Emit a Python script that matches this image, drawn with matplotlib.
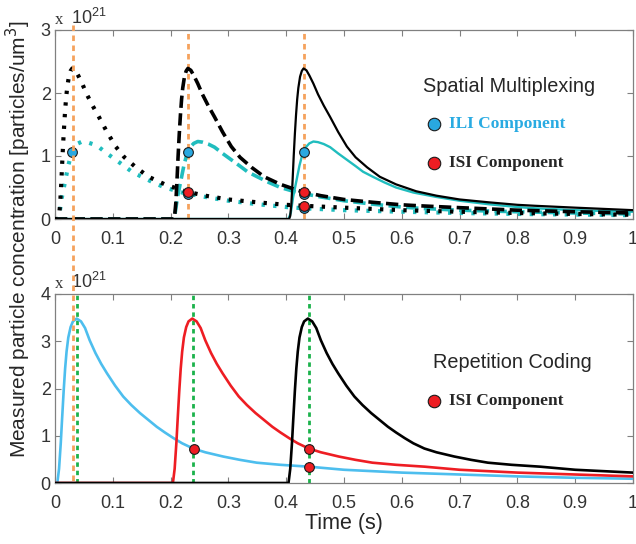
import matplotlib.pyplot as plt
from matplotlib.lines import Line2D
import numpy as np

# time since each emission (s) and read-off concentrations (x 1e21)
t_black = [0.0, 0.005, 0.007, 0.009, 0.011, 0.013, 0.015, 0.017, 0.019, 0.021,
           0.024, 0.027, 0.030, 0.035, 0.040, 0.047, 0.055, 0.065, 0.076, 0.090,
           0.105, 0.120, 0.140, 0.162, 0.190, 0.225, 0.260, 0.300, 0.350, 0.400,
           0.430, 0.500, 0.600, 0.700, 0.800, 0.900, 1.000]
c_black = [0.0, 0.0, 0.05, 0.25, 0.6, 1.0, 1.35, 1.65, 1.9, 2.08,
           2.26, 2.35, 2.39, 2.36, 2.28, 2.15, 1.98, 1.80, 1.62, 1.38,
           1.15, 0.98, 0.82, 0.67, 0.55, 0.44, 0.37, 0.31, 0.265, 0.225,
           0.21, 0.18, 0.14, 0.115, 0.095, 0.08, 0.067]

t_cyan = [0.0, 0.004, 0.008, 0.012, 0.018, 0.023, 0.027, 0.030, 0.035, 0.040,
          0.047, 0.055, 0.065, 0.076, 0.090, 0.105, 0.120, 0.133, 0.150, 0.170,
          0.190, 0.220, 0.260, 0.300, 0.350, 0.400, 0.430, 0.500, 0.600, 0.700,
          0.800, 0.900, 1.000]
c_cyan = [0.0, 0.0, 0.1, 0.35, 0.62, 0.85, 0.99, 1.07, 1.15, 1.2,
          1.23, 1.22, 1.19, 1.14, 1.04, 0.94, 0.84, 0.75, 0.67, 0.58,
          0.5, 0.42, 0.35, 0.29, 0.235, 0.19, 0.17, 0.14, 0.115, 0.095,
          0.08, 0.07, 0.06]

t_rep = [0.0, 0.004, 0.007, 0.010, 0.012, 0.015, 0.0175, 0.020, 0.023, 0.027,
         0.031, 0.0375, 0.045, 0.052, 0.060, 0.070, 0.080, 0.090, 0.104, 0.118,
         0.132, 0.147, 0.160, 0.176, 0.190, 0.205, 0.220, 0.239, 0.260, 0.291,
         0.320, 0.349, 0.390, 0.440, 0.500, 0.600, 0.700, 0.800, 0.900, 1.000]
c_rep = [0.0, 0.0, 0.3, 0.85, 1.3, 1.95, 2.42, 2.78, 3.08, 3.3,
         3.42, 3.48, 3.42, 3.28, 3.02, 2.75, 2.52, 2.32, 2.06, 1.83,
         1.65, 1.48, 1.35, 1.19, 1.07, 0.95, 0.84, 0.73, 0.65, 0.56,
         0.49, 0.43, 0.385, 0.345, 0.28, 0.22, 0.18, 0.14, 0.11, 0.09]

emit_times = [0.0, 0.2, 0.4]
orange_x = [0.03, 0.23, 0.43]
green_x = [0.0375, 0.239, 0.4394]

top_ili_x = [0.03, 0.23, 0.23, 0.43, 0.43, 0.43]
top_ili_y = [1.07, 1.07, 0.40, 1.07, 0.40, 0.17]
top_isi_x = [0.23, 0.43, 0.43]
top_isi_y = [0.43, 0.43, 0.21]
bot_isi_x = [0.24, 0.44, 0.44]
bot_isi_y = [0.73, 0.73, 0.345]

xticks = [0, 0.1, 0.2, 0.3, 0.4, 0.5, 0.6, 0.7, 0.8, 0.9, 1]
xticklabels = ['0', '0.1', '0.2', '0.3', '0.4', '0.5', '0.6', '0.7', '0.8', '0.9', '1']

CYAN = '#20BDBE'
BLUE = '#4DBEEE'
RED = '#EE1D23'
ORANGE = '#F5A25D'
GREEN = '#1BB24B'
MK_BLUE = '#29A8E0'
FRAME = '#808080'
TXT = '#333333'

plt.rcParams['font.family'] = ['Liberation Sans', 'DejaVu Sans']

W, H = 636, 544
fig = plt.figure(figsize=(W / 100, H / 100), dpi=100)


def fx(px):
    return px / W


def fy(py):
    return 1 - py / H


ax1 = fig.add_axes([fx(55), fy(219), fx(633) - fx(55), fy(30) - fy(219)])
ax2 = fig.add_axes([fx(55), fy(483), fx(633) - fx(55), fy(294) - fy(483)])


def shifted(t, c, t0):
    x = np.concatenate([[0.0], t0 + np.array(t)])
    y = np.concatenate([[0.0], np.array(c)])
    keep = x <= 1.0
    return x[keep], y[keep]


# top panel: spatial multiplexing
for t0 in orange_x[1:]:
    ax1.axvline(t0, color=ORANGE, lw=2, dashes=(2, 1.6), zorder=1)

styles = [dict(ls=':', lw=3.0, dashes=(0.8, 2.0)),
          dict(ls='--', lw=2.6, dashes=(3.4, 1.5)),
          dict(ls='-', lw=1.6)]
for t0, st in zip(emit_times, styles):
    x, y = shifted(t_cyan, c_cyan, t0)
    kw = dict(st)
    if kw['ls'] == '-':
        kw['lw'] = 1.7
    ax1.plot(x, y, color=CYAN, zorder=2, **kw)
for t0, st in zip(emit_times, styles):
    x, y = shifted(t_black, c_black, t0)
    ax1.plot(x, y, color='black', zorder=3, **st)

ax1.plot(top_ili_x, top_ili_y, 'o', ms=7, mfc=MK_BLUE, mec='#1a1a1a', mew=0.8, zorder=5)
ax1.plot(top_isi_x, top_isi_y, 'o', ms=7, mfc=RED, mec='#1a1a1a', mew=0.8, zorder=6)
ax1.set_ylim(0, 3)
ax1.set_yticks([0, 1, 2, 3])

# bottom panel: repetition coding
for gx in green_x:
    ax2.axvline(gx, color=GREEN, lw=2, dashes=(1.6, 1.4), zorder=1)
for t0, col in zip(emit_times, [BLUE, RED, 'black']):
    x, y = shifted(t_rep, c_rep, t0)
    ax2.plot(x, y, color=col, lw=1.9, zorder=3)
ax2.plot(bot_isi_x, bot_isi_y, 'o', ms=7, mfc=RED, mec='#1a1a1a', mew=0.8, zorder=6)
ax2.set_ylim(0, 4)
ax2.set_yticks([0, 1, 2, 3, 4])

for ax in (ax1, ax2):
    ax.set_xlim(0, 1)
    ax.set_xticks(xticks)
    ax.set_xticklabels(xticklabels)
    ax.tick_params(direction='in', length=4, width=0.8, color=FRAME,
                   labelsize=13, labelcolor=TXT, top=True, right=True)
    ax.tick_params(axis='x', pad=9)
    ax.tick_params(axis='y', pad=3)
    for sp in ax.spines.values():
        sp.set_color(FRAME)
        sp.set_linewidth(0.9)
    ax.text(0.0, 1.012, 'x', transform=ax.transAxes, fontsize=12,
            family='Liberation Serif', color=TXT, ha='left', va='bottom')
    ax.text(0.028, 1.012, r'$\mathregular{10^{21}}$', transform=ax.transAxes,
            fontsize=13, color=TXT, ha='left', va='bottom')

# orange marker time that crosses both panels
fig.add_artist(Line2D([fx(72.7), fx(72.7)], [fy(25), fy(482)], color=ORANGE,
                      lw=2, dashes=(2, 1.6), zorder=0.5))

# annotations
fig.text(fx(423), fy(87), 'Spatial Multiplexing', fontsize=14.3, color='#262626',
         ha='left', va='center')
fig.add_artist(Line2D([fx(433.7)], [fy(124)], marker='o', ms=9, mfc=MK_BLUE,
                      mec='#1a1a1a', mew=0.8))
fig.text(fx(449), fy(124), 'ILI Component', fontsize=12.5, color='#29ABE2',
         family='Liberation Serif', weight='bold', ha='left', va='center')
fig.add_artist(Line2D([fx(433.7)], [fy(163)], marker='o', ms=9, mfc=RED,
                      mec='#1a1a1a', mew=0.8))
fig.text(fx(449), fy(163), 'ISI Component', fontsize=12.5, color='#262626',
         family='Liberation Serif', weight='bold', ha='left', va='center')

fig.text(fx(433), fy(362), 'Repetition Coding', fontsize=14.3, color='#262626',
         ha='left', va='center')
fig.add_artist(Line2D([fx(433.7)], [fy(401)], marker='o', ms=9, mfc=RED,
                      mec='#1a1a1a', mew=0.8))
fig.text(fx(449), fy(401), 'ISI Component', fontsize=12.5, color='#262626',
         family='Liberation Serif', weight='bold', ha='left', va='center')

fig.text(fx(18), fy(239), 'Measured particle concentration [particles/um$^3$]',
         rotation=90, fontsize=15, color='#262626', ha='center', va='center')
fig.text(fx(344), fy(524), 'Time (s)', fontsize=15.5, color='#262626',
         ha='center', va='center')

fig.savefig('out.png', dpi=100)
